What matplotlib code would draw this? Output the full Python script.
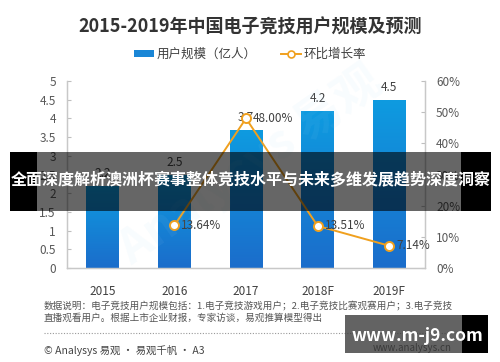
import matplotlib
matplotlib.use("Agg")
import matplotlib.pyplot as plt
import numpy as np
from matplotlib.patches import Rectangle, Patch
from matplotlib.lines import Line2D
from matplotlib.colors import LinearSegmentedColormap

plt.rcParams['font.family'] = ['Noto Sans CJK SC', 'DejaVu Sans']

categories = ["2015", "2016", "2017", "2018F", "2019F"]
users = [2.2, 2.5, 3.7, 4.2, 4.5]
growth_cats = ["2016", "2017", "2018F", "2019F"]
growth = [13.64, 48.00, 13.51, 7.14]
growth_labels = ["13.64%", "48.00%", "13.51%", "7.14%"]
left_ticks = [0, 0.5, 1, 1.5, 2, 2.5, 3, 3.5, 4, 4.5, 5]
left_ticklabels = ["0", "0.5", "1", "1.5", "2", "2.5", "3", "3.5", "4", "4.5", "5"]
right_ticks = [0, 10, 20, 30, 40, 50, 60]
right_ticklabels = ["0%", "10%", "20%", "30%", "40%", "50%", "60%"]

title = "2015-2019年中国电子竞技用户规模及预测"
legend_bar = "用户规模（亿人）"
legend_line = "环比增长率"
banner = "全面深度解析澳洲杯赛事整体竞技水平与未来多维发展趋势深度洞察"
note1 = "数据说明：电子竞技用户规模包括：1.电子竞技游戏用户；2.电子竞技比赛观赛用户；3.电子竞技"
note2 = "直播观看用户。根据上市企业财报，专家访谈，易观推算模型得出"
source = "© Analysys 易观 · 易观千帆 · A3"

W, H = 500, 362
fig = plt.figure(figsize=(5.0, 3.62), dpi=100)
fig.patch.set_facecolor("white")

def fx(x):
    return x / W

def fy(y):
    return 1 - y / H

ax = fig.add_axes([fx(67), fy(268), fx(425) - fx(67), fy(81) - fy(268)])
ax2 = ax.twinx()

xpos = np.arange(len(categories))
bars = ax.bar(xpos, users, width=0.46, color="none", edgecolor="none", zorder=2)
cmap = LinearSegmentedColormap.from_list("g", ["#1b6dcb", "#0e9be0"])
grad = np.linspace(0, 1, 100).reshape(-1, 1)
for b in bars:
    x0 = b.get_x()
    w = b.get_width()
    h = b.get_height()
    im = ax.imshow(grad, extent=[x0, x0 + w, 0, h], origin="lower", aspect="auto",
                   cmap=cmap, zorder=2)
    im.set_clip_path(b)

for x, v in zip(xpos, users):
    ax.annotate(f"{v}", (x, v), xytext=(0, 4), textcoords="offset points",
                ha="center", va="bottom", fontsize=8.5, color="#404040", zorder=5)

ax.set_xlim(-0.5, len(categories) - 0.5)
ax.set_ylim(0, 5)
ax.set_yticks(left_ticks)
ax.set_yticklabels(left_ticklabels)
ax.set_xticks(xpos)
ax.set_xticklabels(categories)
ax.tick_params(axis="x", length=0, pad=12, labelsize=8.5, labelcolor="#404040")
ax.tick_params(axis="y", length=3, direction="in", color="#bfbfbf", pad=8,
               labelsize=8.5, labelcolor="#595959")

gx = [categories.index(c) for c in growth_cats]
ax2.plot(gx, growth, color="#f0a01e", lw=1.4, marker="o", ms=6.5,
         mfc="white", mec="#f0a01e", mew=1.4, zorder=4)
for x, v, lab in zip(gx, growth, growth_labels):
    ax2.annotate(lab, (x, v), xytext=(5, 0), textcoords="offset points",
                 ha="left", va="center", fontsize=8.5, color="#404040", zorder=5)
ax2.set_ylim(0, 60)
ax2.set_yticks(right_ticks)
ax2.set_yticklabels(right_ticklabels)
ax2.tick_params(axis="y", length=3, direction="in", color="#bfbfbf", pad=8,
                labelsize=8.5, labelcolor="#595959")

for a in (ax, ax2):
    a.spines["top"].set_visible(False)
    for s in ("left", "right", "bottom"):
        a.spines[s].set_color("#c8c8c8")
        a.spines[s].set_linewidth(0.9)
    a.patch.set_visible(False)

# faint watermark
fig.text(fx(250), fy(165), "Analysys 易观", fontsize=34, color="#9fd3f2", alpha=0.07,
         rotation=35, ha="center", va="center", fontweight="bold", zorder=0)

fig.text(0.5, fy(27), title, ha="center", va="center", fontsize=13,
         fontweight="bold", color="#333333")

handles = [Patch(facecolor="#1a86d6", edgecolor="none"),
           Line2D([0], [0], color="#f0a01e", lw=1.4, marker="o", ms=5,
                  mfc="white", mec="#f0a01e", mew=1.2)]
fig.legend(handles, [legend_bar, legend_line], loc="center", ncol=2,
           bbox_to_anchor=(0.5, fy(54)), frameon=False, fontsize=9,
           handlelength=1.6, handleheight=0.5, handletextpad=0.2,
           columnspacing=2.0, labelcolor="#404040")

# banner overlay
fig.patches.append(Rectangle((fx(10), fy(211)), fx(37) - fx(10), fy(152) - fy(211),
                             transform=fig.transFigure, facecolor="black", edgecolor="none", zorder=10))
fig.patches.append(Rectangle((fx(461), fy(211)), fx(491) - fx(461), fy(152) - fy(211),
                             transform=fig.transFigure, facecolor="black", edgecolor="none", zorder=10))
fig.patches.append(Rectangle((fx(37), fy(211)), fx(461) - fx(37), fy(152) - fy(211),
                             transform=fig.transFigure, facecolor="black", alpha=0.6,
                             edgecolor="none", zorder=10))
fig.text(fx(250.5), fy(180), banner, ha="center", va="center", fontsize=11.5,
         fontweight="bold", color="white", zorder=11)

# notes
fig.text(fx(44), fy(306), note1, ha="left", va="center", fontsize=6.9, color="#555555")
fig.text(fx(44), fy(318), note2, ha="left", va="center", fontsize=6.9, color="#555555")
fig.lines.append(Line2D([fx(44), fx(460)], [fy(333), fy(333)], transform=fig.transFigure,
                        color="#999999", lw=0.8, ls=(0, (1, 1.5))))
fig.text(fx(44), fy(350), source, ha="left", va="center", fontsize=7.5, color="#444444")
fig.text(fx(412), fy(348), "www.analysys.cn", ha="center", va="center", fontsize=7,
         color="#333333", zorder=9)

# watermark box
fig.patches.append(Rectangle((fx(345), fy(353)), fx(462) - fx(345), fy(315) - fy(353),
                             transform=fig.transFigure, facecolor="#3c3c3c", alpha=0.8,
                             edgecolor="none", zorder=10))
fig.patches.append(Rectangle((fx(462), fy(353)), fx(488) - fx(462), fy(315) - fy(353),
                             transform=fig.transFigure, facecolor="black",
                             edgecolor="none", zorder=10))
fig.text(fx(417), fy(336), "www.m-j9.com", ha="center", va="center", fontsize=12.5,
         fontweight="bold", color="white", zorder=11)

fig.savefig("out.png", dpi=100, facecolor="white")
